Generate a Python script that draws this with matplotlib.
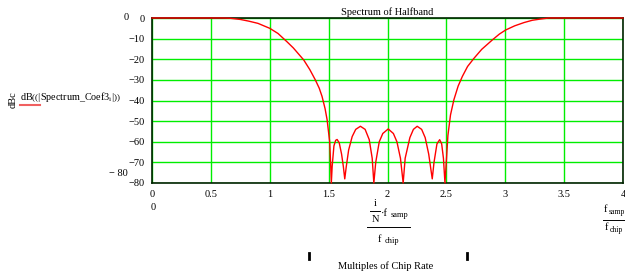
import matplotlib
matplotlib.use("Agg")
import matplotlib.pyplot as plt
from matplotlib.lines import Line2D
import numpy as np

# multiples of chip rate vs. level in dBc
freq = [0.0, 0.6, 0.66, 0.75, 0.82, 0.9, 1.0, 1.07, 1.146, 1.2, 1.25, 1.288,
        1.34, 1.387, 1.42, 1.444, 1.47, 1.487, 1.509, 1.518, 1.523, 1.53,
        1.545, 1.56, 1.572, 1.59, 1.61, 1.625, 1.637, 1.65, 1.67, 1.70, 1.73,
        1.77, 1.81, 1.845, 1.87, 1.884, 1.90, 1.93, 1.96, 2.006, 2.05, 2.08,
        2.11, 2.133, 2.15, 2.19, 2.22, 2.252, 2.29, 2.32, 2.35, 2.38, 2.395,
        2.42, 2.443, 2.46, 2.475, 2.488, 2.497, 2.513, 2.535, 2.564, 2.6,
        2.636, 2.68, 2.735, 2.8, 2.891, 2.95, 3.004, 3.08, 3.16, 3.23, 3.30,
        3.37, 4.0]
level = [0, 0, -0.1, -0.7, -1.5, -2.6, -5, -7.5, -11.5, -14.5, -17.8, -20.3,
         -25, -30, -34, -38, -44, -49.3, -60, -72, -95, -72,
         -62, -59.3, -58.9, -60.5, -66, -72, -78, -72, -64, -57.5, -54,
         -52.5, -54, -59, -68, -95, -70, -60, -56, -53.8, -56, -60,
         -68, -95, -68, -58, -54, -52.5, -54, -58, -66, -78, -70,
         -61, -59, -61, -68, -95, -72, -57, -47, -39.6, -33,
         -28.3, -23.5, -19.5, -15.2, -10.6, -7.8, -5.8, -3.8, -2.2, -1.1, -0.5,
         0, 0]

xticks = [0, 0.5, 1, 1.5, 2, 2.5, 3, 3.5, 4]
xtick_labels = ["0", "0.5", "1", "1.5", "2", "2.5", "3", "3.5", "4"]
yticks = [0, -10, -20, -30, -40, -50, -60, -70, -80]

plt.rcParams['font.family'] = ['Liberation Serif', 'DejaVu Serif']
plt.rcParams['mathtext.fontset'] = 'custom'
plt.rcParams['mathtext.rm'] = 'Liberation Serif'
plt.rcParams['mathtext.it'] = 'Liberation Serif'

W, H = 625, 275
FS = 7.5
SUB = 6
fig = plt.figure(figsize=(W / 100, H / 100), dpi=100)
ax = fig.add_axes([152 / W, 1 - 183 / H, 471 / W, 165 / H])


def fx(px):
    return px / W


def fy(py):
    return 1 - py / H


ax.plot(freq, np.maximum(level, -80), color='#ff0000', lw=1.0, zorder=5,
        clip_on=False)
ax.set_xlim(0, 4)
ax.set_ylim(-80, 0)
ax.set_xticks(xticks)
ax.set_xticklabels(xtick_labels)
ax.set_yticks(yticks)
ax.set_yticklabels(["0"] + ["\u2212%d" % -v for v in yticks[1:]])
ax.tick_params(length=0, labelsize=FS, pad=5)
ax.grid(True, color='#00ee00', lw=1.0)
for s in ax.spines.values():
    s.set_color('#002200')
    s.set_linewidth(1.2)
ax.set_title("Spectrum of Halfband", fontsize=FS, pad=2)

# axis limit labels
fig.text(fx(126), fy(18), "0", fontsize=FS, ha='center', va='center')
fig.text(fx(128), fy(174), "\u2212 80", fontsize=FS, ha='right', va='center')
fig.text(fx(153), fy(208), "0", fontsize=FS, ha='center', va='center')

# y axis label
fig.text(fx(13), fy(100), "dBc", fontsize=FS, rotation=90, ha='center', va='center')
fig.text(fx(20), fy(97),
         r"dB$\left(\left(\left|\mathrm{Spectrum\_Coef3}_{\mathrm{i}}\right|\right)\right)$",
         fontsize=7.3, ha='left', va='center')
fig.add_artist(Line2D([fx(20), fx(40)], [fy(105), fy(105)], color='#f06060', lw=1.5))

# x axis expression (centre)
fig.text(fx(375), fy(203), "i", fontsize=FS, ha='center', va='center')
fig.add_artist(Line2D([fx(370), fx(380)], [fy(211), fy(211)], color='black', lw=0.7))
fig.text(fx(376), fy(220), "N", fontsize=FS, ha='center', va='center')
fig.text(fx(381), fy(213), "\u00b7f", fontsize=FS, ha='left', va='center')
fig.text(fx(391), fy(215), "samp", fontsize=SUB, ha='left', va='center')
fig.add_artist(Line2D([fx(367), fx(410)], [fy(227), fy(227)], color='black', lw=0.7))
fig.text(fx(378), fy(239), "f", fontsize=FS, ha='left', va='center')
fig.text(fx(385), fy(241), "chip", fontsize=SUB, ha='left', va='center')

# x axis expression (right)
fig.text(fx(604), fy(210), "f", fontsize=FS, ha='left', va='center')
fig.text(fx(609), fy(212), "samp", fontsize=5.5, ha='left', va='center')
fig.add_artist(Line2D([fx(603), fx(625)], [fy(220), fy(220)], color='black', lw=0.7))
fig.text(fx(605), fy(228), "f", fontsize=FS, ha='left', va='center')
fig.text(fx(610), fy(230), "chip", fontsize=5.5, ha='left', va='center')

# region markers and caption
for px in (309, 467):
    fig.add_artist(Line2D([fx(px), fx(px)], [fy(253), fy(259)], color='black', lw=2))
fig.text(fx(386), fy(266), "Multiples of Chip Rate", fontsize=FS, ha='center', va='center')

fig.savefig("out.png", dpi=100)
